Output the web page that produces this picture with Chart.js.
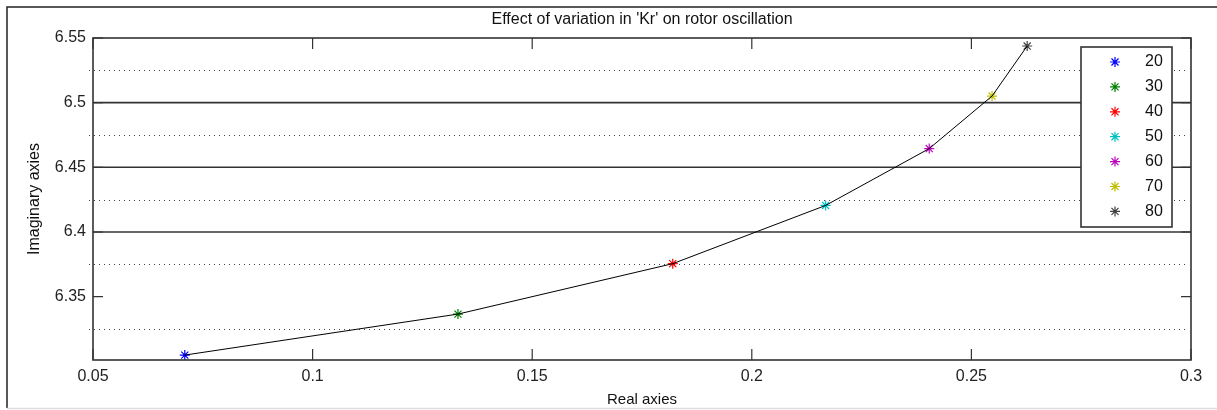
<!DOCTYPE html>
<html>
<head>
<meta charset="utf-8">
<title>Effect of variation in 'Kr' on rotor oscillation</title>
<script src="https://cdn.jsdelivr.net/npm/chart.js@4/dist/chart.umd.min.js"></script>
<style>
    body { margin: 0; background: #fff; }
    #wrap { position: relative; width: 1217px; height: 410px; }
</style>
</head>
<body>
<div id="wrap"><canvas id="chart" width="1217" height="410"></canvas></div>
<script>
// Data
const krLabels = ['20', '30', '40', '50', '60', '70', '80'];
const realValues = [0.0709, 0.1331, 0.1820, 0.2168, 0.2404, 0.2547, 0.2627];
const imagValues = [6.3048, 6.3365, 6.3755, 6.4205, 6.4645, 6.5051, 6.5438];
const markerColors = ['#0000ff', '#008000', '#ff0000', '#00bfbf', '#bf00bf', '#bfbf00', '#404040'];

// Axis ticks and reference lines
const xTicks = [0.05, 0.1, 0.15, 0.2, 0.25, 0.3];
const yTicks = [6.35, 6.4, 6.45, 6.5, 6.55];
const solidLines = [6.4, 6.45, 6.5];
const dottedLines = [6.325, 6.375, 6.425, 6.475, 6.525];

const FONT = 'Liberation Sans, Arial, sans-serif';
const FRAME = '#333';

const points = realValues.map((x, i) => ({ x, y: imagValues[i] }));

const datasets = [{
    label: 'curve',
    data: points,
    showLine: true,
    borderColor: '#000',
    borderWidth: 1,
    pointRadius: 0,
    pointHoverRadius: 0
}];
krLabels.forEach((label, i) => {
    datasets.push({
        label,
        data: [points[i]],
        pointStyle: 'star',
        pointRadius: 5,
        pointHoverRadius: 5,
        borderColor: markerColors[i],
        backgroundColor: markerColors[i],
        pointBorderWidth: 1.2
    });
});

// Grid lines, frame, ticks, titles and legend, drawn in MATLAB style
const matlabLook = {
    id: 'matlabLook',
    beforeDatasetsDraw(chart) {
        const { ctx, chartArea: a, scales: { y } } = chart;
        ctx.save();
        ctx.strokeStyle = '#444';
        ctx.lineWidth = 1;
        ctx.setLineDash([1, 4]);
        dottedLines.forEach(v => {
            const py = Math.round(y.getPixelForValue(v)) + 0.5;
            ctx.beginPath();
            ctx.moveTo(a.left - 4, py);
            ctx.lineTo(a.right - 4, py);
            ctx.stroke();
        });
        ctx.setLineDash([]);
        ctx.strokeStyle = FRAME;
        ctx.lineWidth = 1.6;
        solidLines.forEach(v => {
            const py = y.getPixelForValue(v);
            ctx.beginPath();
            ctx.moveTo(a.left, py);
            ctx.lineTo(a.right, py);
            ctx.stroke();
        });
        ctx.restore();
    },
    afterDraw(chart) {
        const { ctx, chartArea: a, scales: { x, y } } = chart;
        ctx.save();

        // axes box
        ctx.strokeStyle = FRAME;
        ctx.lineWidth = 1.6;
        ctx.strokeRect(a.left, a.top, a.right - a.left, a.bottom - a.top);

        // inward tick marks
        ctx.lineWidth = 1.2;
        ctx.beginPath();
        xTicks.forEach(v => {
            const px = x.getPixelForValue(v);
            ctx.moveTo(px, a.bottom); ctx.lineTo(px, a.bottom - 11);
            ctx.moveTo(px, a.top); ctx.lineTo(px, a.top + 11);
        });
        yTicks.forEach(v => {
            const py = y.getPixelForValue(v);
            ctx.moveTo(a.left, py); ctx.lineTo(a.left + 10, py);
            ctx.moveTo(a.right, py); ctx.lineTo(a.right - 10, py);
        });
        ctx.stroke();

        // outer figure frame
        ctx.strokeStyle = '#222';
        ctx.lineWidth = 1.5;
        ctx.beginPath();
        ctx.moveTo(7, 408); ctx.lineTo(7, 7); ctx.lineTo(1217, 7);
        ctx.stroke();
        ctx.strokeStyle = '#ddd';
        ctx.beginPath();
        ctx.moveTo(7, 408.5); ctx.lineTo(1217, 408.5);
        ctx.stroke();

        // titles
        ctx.fillStyle = '#111';
        ctx.textAlign = 'center';
        ctx.textBaseline = 'middle';
        const cx = (a.left + a.right) / 2;
        ctx.font = '16px ' + FONT;
        ctx.fillText("Effect of variation in 'Kr' on rotor oscillation", cx, 20);
        ctx.font = '15px ' + FONT;
        ctx.fillText('Real axies', cx, 400);
        ctx.font = '16px ' + FONT;
        ctx.translate(35, (a.top + a.bottom) / 2);
        ctx.rotate(-Math.PI / 2);
        ctx.fillText('Imaginary axies', 0, 0);
        ctx.setTransform(1, 0, 0, 1, 0, 0);

        // legend box
        const lx = 1081, ly = 47, lw = 91, lh = 180;
        ctx.fillStyle = '#fff';
        ctx.fillRect(lx, ly, lw, lh);
        ctx.strokeStyle = FRAME;
        ctx.lineWidth = 1.6;
        ctx.strokeRect(lx, ly, lw, lh);
        ctx.font = '16px ' + FONT;
        ctx.textAlign = 'left';
        krLabels.forEach((label, i) => {
            const ry = 62 + i * 24.9;
            ctx.strokeStyle = markerColors[i];
            ctx.lineWidth = 1.2;
            Chart.helpers.drawPoint(ctx, {
                pointStyle: 'star', radius: 5, borderWidth: 1.2
            }, 1115, ry);
            ctx.fillStyle = '#111';
            ctx.fillText(label, 1145, ry);
        });
        ctx.restore();
    }
};

new Chart(document.getElementById('chart').getContext('2d'), {
    type: 'scatter',
    data: { datasets },
    options: {
        responsive: false,
        animation: false,
        events: [],
        layout: { padding: { top: 38, right: 26, left: 0, bottom: 0 } },
        plugins: {
            legend: { display: false },
            tooltip: { enabled: false },
            title: { display: false }
        },
        scales: {
            x: {
                type: 'linear',
                min: 0.05,
                max: 0.3,
                afterBuildTicks: s => { s.ticks = xTicks.map(value => ({ value })); },
                afterFit: s => { s.height = 50; },
                grid: { display: false, drawTicks: false },
                border: { display: false },
                ticks: {
                    color: '#222',
                    padding: 7,
                    font: { family: FONT, size: 16 },
                    callback: v => String(+v.toFixed(3))
                }
            },
            y: {
                type: 'linear',
                min: 6.301,
                max: 6.55,
                afterBuildTicks: s => { s.ticks = yTicks.map(value => ({ value })); },
                afterFit: s => { s.width = 93; },
                grid: { display: false, drawTicks: false },
                border: { display: false },
                ticks: {
                    color: '#222',
                    padding: 7,
                    font: { family: FONT, size: 16 },
                    callback: v => String(+v.toFixed(3))
                }
            }
        }
    },
    plugins: [matlabLook]
});
</script>
</body>
</html>
